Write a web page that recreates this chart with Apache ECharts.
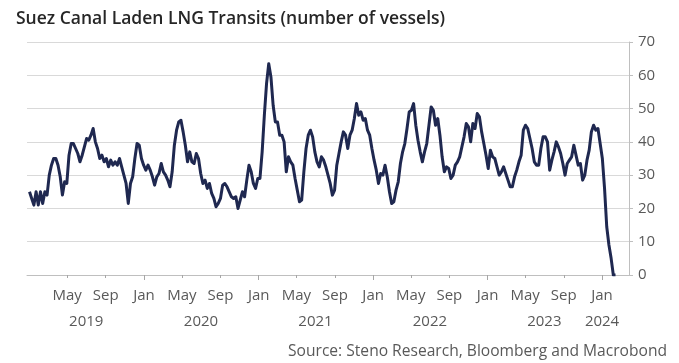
<!DOCTYPE html>
<html>
<head>
<meta charset="utf-8">
<script src="https://cdn.jsdelivr.net/npm/echarts@6/dist/echarts.min.js"></script>
<style>
html,body{margin:0;padding:0;background:#fff;}
#chart{width:679px;height:363px;}
</style>
</head>
<body>
<div id="chart"></div>
<script>
// ---- data (weekly observations starting at startDate) ----
const titleText = 'Suez Canal Laden LNG Transits (number of vessels)';
const sourceText = 'Source: Steno Research, Bloomberg and Macrobond';
const startDate = '2019-01-01';
const stepDays = 7;
const transits = [
  25,23,21,25,21,25,21.5,25,24,30,33,35,35,33,29.5,24,28,27.5,36,39.5,
  39.5,38,36.5,34,36,38.5,41,40.5,42,44,40,38,35,36,34,35,32.5,34.5,33,34,
  33,35,32.5,30,27.5,21.5,27.5,29.5,35,39.5,39,35,33,31.5,33,31.5,29.5,27,29.5,30.5,
  33.5,31,30,28.5,26.5,31,39,43.5,46,46.5,43,39,34,37,34,33.5,36.5,35,30.5,27.5,
  28.5,26,27.5,24.5,23,20.5,21.5,23,27,27.5,26.5,25,23.5,23,23.5,20,22.5,25,23.5,28.5,
  33,31,27.5,26,29,29,37,48,57.5,63.5,59.5,51,46,46,42,42,40,31,35.5,34,
  33,29,25.5,22,22.5,31,38,42,43.5,41.5,37,34,32.5,35.5,34.5,32.5,30,27.5,24,25.5,
  33,36.5,40,43,42,38,42,43.5,47,51.5,48,49,46.5,47,43.5,42,38,34.5,31.5,27.5,
  30.5,30,33,29.5,25,21.5,22,25.5,28,33.5,37,39.5,44,49,49.5,51.5,45,40.5,37,34,
  37,39.5,45,50.5,49.5,45,47,42,35.5,31,32.5,32,29,30,33,34,35.5,38.5,41.5,45.5,
  44.5,40,45.5,44,48.5,47.5,43,39.5,36,32,37.5,35.5,35,32.5,30,31,32.5,30.5,28.5,26.5,
  26.5,29.5,31.5,34,36,43.5,45,44,41,38,34,33,33,38,41.5,41.5,40,31.5,34.5,37,
  40,38.5,36.5,33.5,30,33.5,34.5,35.5,39,36,33,33.5,28.5,30,34.5,37.5,43,45,43.5,44,
  39.5,35,26,14.5,9,5,0,0
];
// axis ticks / labels
const monthTickDates = ['2019-05-01','2019-09-01','2020-01-01','2020-05-01','2020-09-01','2021-01-01',
  '2021-05-01','2021-09-01','2022-01-01','2022-05-01','2022-09-01','2023-01-01','2023-05-01','2023-09-01','2024-01-01'];
const monthNames = ['Jan','Feb','Mar','Apr','May','Jun','Jul','Aug','Sep','Oct','Nov','Dec'];
const janTickDates = ['2020-01-01','2021-01-01','2022-01-01','2023-01-01','2024-01-01'];
const yearLabelDates = ['2019-07-01','2020-07-01','2021-07-01','2022-07-01','2023-07-01','2024-01-01'];
const yearLabels = ['2019','2020','2021','2022','2023','2024'];
const yTicks = [0,10,20,30,40,50,60,70];
const xMin = '2018-12-24', xMax = '2024-03-27';

function ts(s){ const p = s.split('-').map(Number); return Date.UTC(p[0], p[1]-1, p[2]); }
const DAY = 86400000;
const t0 = ts(startDate);
const seriesData = transits.map((v, i) => [t0 + i * stepDays * DAY, v]);

const monthTicks = monthTickDates.map(ts);
const janTicks = janTickDates.map(ts);
const yearTicks = yearLabelDates.map(ts);
const yearMap = {}; yearTicks.forEach((t, i) => { yearMap[t] = yearLabels[i]; });

const FONT = 'Open Sans';
const GRAY = '#595959';
const AXIS = '#bfbfbf';

const chart = echarts.init(document.getElementById('chart'), null, {renderer: 'canvas'});
chart.setOption({
  animation: false,
  backgroundColor: '#ffffff',
  textStyle: {fontFamily: FONT},
  title: [
    {text: titleText, left: 11, top: 5,
     textStyle: {fontFamily: FONT, fontSize: 17.5, fontWeight: 600, color: '#262626'}},
    {text: sourceText, right: 7, top: 339,
     textStyle: {fontFamily: FONT, fontSize: 15.6, fontWeight: 'normal', color: GRAY}}
  ],
  grid: {left: 27, right: 50, top: 42, bottom: 88, containLabel: false},
  xAxis: [
    {
      type: 'value', min: ts(xMin), max: ts(xMax), position: 'bottom',
      axisLine: {show: true, onZero: false, lineStyle: {color: AXIS, width: 1}},
      axisTick: {show: true, customValues: monthTicks, length: 3, lineStyle: {color: '#a6a6a6'}},
      axisLabel: {
        show: true, customValues: monthTicks, margin: 13, showMinLabel: true, showMaxLabel: true,
        color: GRAY, fontFamily: FONT, fontSize: 15,
        formatter: v => monthNames[new Date(v).getUTCMonth()]
      },
      splitLine: {show: false}
    },
    {
      type: 'value', min: ts(xMin), max: ts(xMax), position: 'bottom', gridIndex: 0,
      axisLine: {show: false, onZero: false},
      axisTick: {show: true, customValues: janTicks, length: 5, lineStyle: {color: '#a6a6a6'}},
      axisLabel: {
        show: true, customValues: yearTicks, margin: 39,
        color: GRAY, fontFamily: FONT, fontSize: 15,
        formatter: v => yearMap[v] || ''
      },
      splitLine: {show: false}
    }
  ],
  yAxis: {
    type: 'value', position: 'right', min: yTicks[0], max: yTicks[yTicks.length-1], interval: 10,
    axisLine: {show: true, lineStyle: {color: AXIS, width: 1}},
    axisTick: {show: true, length: 4, lineStyle: {color: AXIS}},
    axisLabel: {color: GRAY, fontFamily: FONT, fontSize: 15, margin: 9},
    splitLine: {show: true, lineStyle: {color: '#d9d9d9', width: 1}}
  },
  series: [{
    type: 'line', xAxisIndex: 0, data: seriesData, showSymbol: false, symbol: 'none',
    lineStyle: {color: '#1f2850', width: 3, join: 'round'},
    itemStyle: {color: '#1f2850'}
  }]
});
</script>
</body>
</html>
